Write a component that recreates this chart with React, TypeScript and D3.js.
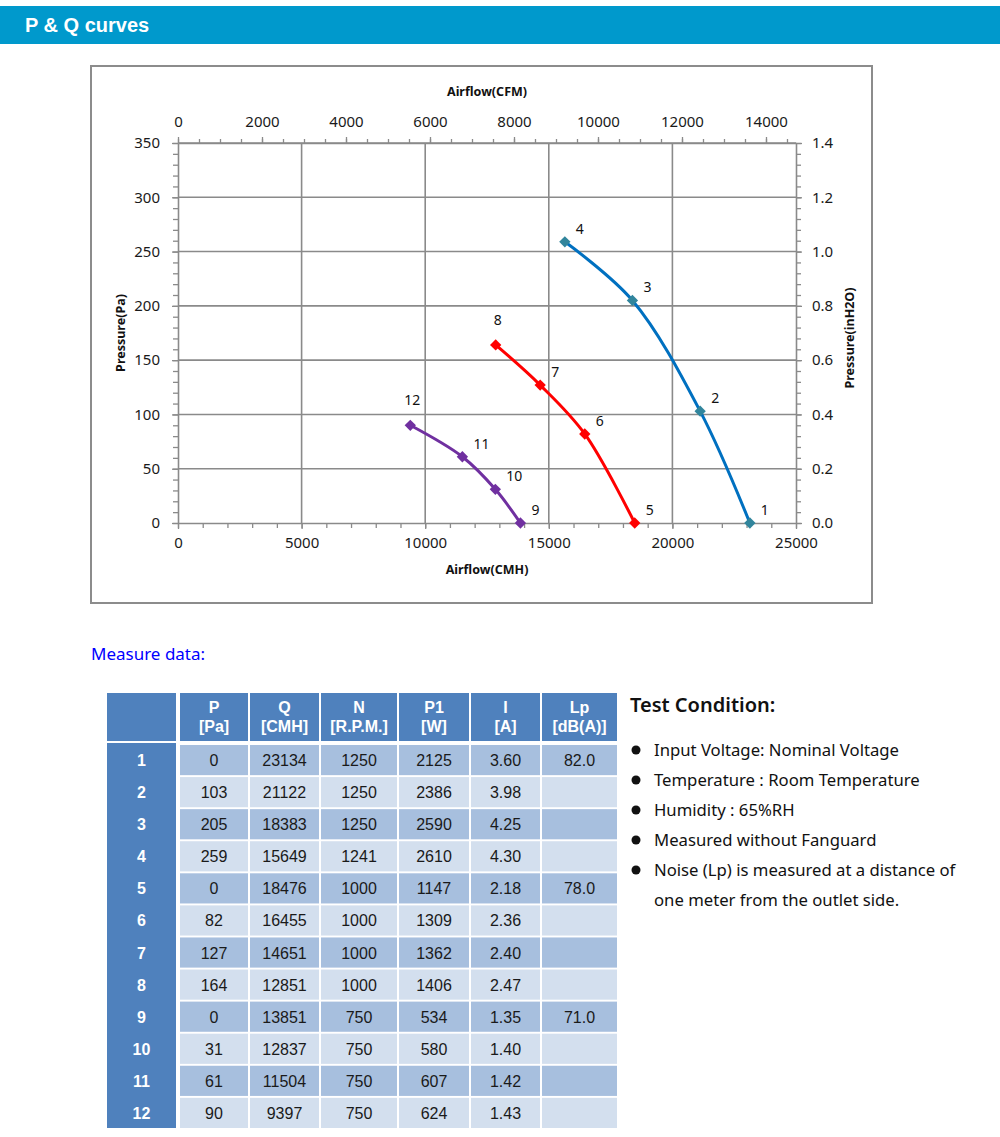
import { useEffect, useRef } from "react"
import * as d3 from "d3"

// measured points 1..12
const pointNo = [1, 2, 3, 4, 5, 6, 7, 8, 9, 10, 11, 12]
const pressurePa = [0, 103, 205, 259, 0, 82, 127, 164, 0, 31, 61, 90]
const flowCMH = [23134, 21122, 18383, 15649, 18476, 16455, 14651, 12851, 13851, 12837, 11504, 9397]
const speedRPM = [1250, 1250, 1250, 1241, 1000, 1000, 1000, 1000, 750, 750, 750, 750]
const powerW = [2125, 2386, 2590, 2610, 1147, 1309, 1362, 1406, 534, 580, 607, 624]
const currentA = ["3.60", "3.98", "4.25", "4.30", "2.18", "2.36", "2.40", "2.47", "1.35", "1.40", "1.42", "1.43"]
const noiseDB = ["82.0", "", "", "", "78.0", "", "", "", "71.0", "", "", ""]

// curves (indexes into the arrays above)
const seriesNames = ["1250 RPM", "1000 RPM", "750 RPM"]
const seriesIdx = [[0, 1, 2, 3], [4, 5, 6, 7], [8, 9, 10, 11]]

const headLines = [["P", "[Pa]"], ["Q", "[CMH]"], ["N", "[R.P.M.]"], ["P1", "[W]"], ["I", "[A]"], ["Lp", "[dB(A)]"]]

const conditions = [
  "Input Voltage: Nominal Voltage",
  "Temperature : Room Temperature",
  "Humidity : 65%RH",
  "Measured without Fanguard",
  "Noise (Lp) is measured at a distance of",
]
const conditionTail = "one meter from the outlet side."

export default function App() {
  const svgRef = useRef<SVGSVGElement>(null)

  useEffect(() => {
    if (!svgRef.current) return
    const svg = d3.select(svgRef.current)
    svg.selectAll("*").remove()

    const font = "'Noto Sans', 'Open Sans', sans-serif"
    const arial = "'Liberation Sans', Arial, sans-serif"
    const gridColor = "#8a8a8a"

    // header bar
    svg.append("rect").attr("x", 0).attr("y", 6).attr("width", 1000).attr("height", 38).attr("fill", "#0099cc")
    svg.append("text").attr("x", 25).attr("y", 32).attr("fill", "#fff")
      .attr("font-family", arial).attr("font-weight", "bold").attr("font-size", 20)
      .text("P & Q curves")

    // chart frame
    svg.append("rect").attr("x", 91).attr("y", 66).attr("width", 781).attr("height", 537)
      .attr("fill", "#fff").attr("stroke", "#8c8c8c").attr("stroke-width", 2)

    const L = 178, R = 796, T = 143, B = 523
    const x = d3.scaleLinear().domain([0, 25000]).range([L, R])
    const xTop = d3.scaleLinear().domain([0, 25000 / 1.699]).range([L, R])
    const y = d3.scaleLinear().domain([0, 350]).range([B, T])
    const yR = d3.scaleLinear().domain([0, 1.4]).range([B, T])

    // grid
    const grid = svg.append("g").attr("stroke", gridColor).attr("stroke-width", 1.6)
    grid.selectAll(".h").data(d3.range(50, 351, 50)).enter().append("line")
      .attr("x1", L).attr("x2", R).attr("y1", (d) => y(d)).attr("y2", (d) => y(d))
    grid.selectAll(".v").data(d3.range(5000, 20001, 5000)).enter().append("line")
      .attr("y1", T).attr("y2", B).attr("x1", (d) => x(d)).attr("x2", (d) => x(d))

    const styleAxis = (g: d3.Selection<SVGGElement, unknown, null, undefined>) => {
      g.selectAll("path").attr("stroke", gridColor).attr("stroke-width", 1.6)
      g.selectAll("line").attr("stroke", gridColor).attr("stroke-width", 1.3)
      g.selectAll("text").attr("font-family", font).attr("font-size", 15).attr("fill", "#1a1a1a")
    }

    // minor ticks
    const minor = (axis: d3.Axis<d3.NumberValue>, tr: string) => {
      const g = svg.append("g").attr("transform", tr).call(axis.tickFormat(() => "").tickSizeOuter(0))
      g.select("path").remove()
      g.selectAll("line").attr("stroke", gridColor).attr("stroke-width", 1.3)
    }
    minor(d3.axisBottom(x).tickValues(d3.range(0, 25001, 1000)).tickSize(5), `translate(0,${B})`)
    minor(d3.axisLeft(y).tickValues(d3.range(0, 351, 10)).tickSize(5), `translate(${L},0)`)
    minor(d3.axisTop(xTop).tickValues(d3.range(0, 14701, 500)).tickSize(4), `translate(0,${T})`)
    minor(d3.axisRight(yR).tickValues(d3.range(0, 1.401, 0.04)).tickSize(5), `translate(${R},0)`)

    // major axes
    svg.append("g").attr("transform", `translate(0,${B})`)
      .call(d3.axisBottom(x).tickValues(d3.range(0, 25001, 5000)).tickSize(6).tickSizeOuter(0).tickPadding(8).tickFormat(d3.format("d")))
      .call(styleAxis)
    svg.append("g").attr("transform", `translate(${L},0)`)
      .call(d3.axisLeft(y).tickValues(d3.range(0, 351, 50)).tickSize(6).tickSizeOuter(0).tickPadding(12))
      .call(styleAxis)
    svg.append("g").attr("transform", `translate(0,${T})`)
      .call(d3.axisTop(xTop).tickValues(d3.range(0, 14001, 2000)).tickSize(6).tickSizeOuter(0).tickPadding(10).tickFormat(d3.format("d")))
      .call(styleAxis)
    svg.append("g").attr("transform", `translate(${R},0)`)
      .call(d3.axisRight(yR).tickValues(d3.range(0, 1.401, 0.2)).tickSize(6).tickSizeOuter(0).tickPadding(10).tickFormat(d3.format(".1f")))
      .call(styleAxis)

    // axis titles
    const title = (tx: number, ty: number, rot: number, s: string) =>
      svg.append("text").attr("transform", `translate(${tx},${ty}) rotate(${rot})`)
        .attr("text-anchor", "middle").attr("font-family", font).attr("font-weight", "bold")
        .attr("font-size", 12.5).attr("fill", "#111").text(s)
    title(487, 96, 0, "Airflow(CFM)")
    title(487, 574, 0, "Airflow(CMH)")
    title(125, 333, -90, "Pressure(Pa)")
    title(854, 338, -90, "Pressure(inH2O)")

    // curves
    const lineColors = ["#0070c0", "#ff0000", "#7030a0"]
    const markerColors = ["#31859c", "#ff0000", "#7030a0"]
    const line = d3.line<number>()
      .x((i) => x(flowCMH[i]))
      .y((i) => y(pressurePa[i]))
      .curve(d3.curveCatmullRom.alpha(0.5))
    const diamond = d3.symbol(d3.symbolSquare, 64)()

    seriesIdx.forEach((idx, s) => {
      const g = svg.append("g").attr("class", "series").attr("data-name", seriesNames[s])
      g.append("path").attr("d", line(idx)).attr("fill", "none")
        .attr("stroke", lineColors[s]).attr("stroke-width", 3)
      g.selectAll("path.m").data(idx).enter().append("path").attr("class", "m")
        .attr("d", diamond)
        .attr("transform", (i) => `translate(${x(flowCMH[i])},${y(pressurePa[i])}) rotate(45)`)
        .attr("fill", markerColors[s])
      const top = (k: number) => k === idx.length - 1 && s > 0
      g.selectAll("text").data(idx).enter().append("text")
        .attr("font-family", font).attr("font-size", 14).attr("fill", "#111")
        .attr("text-anchor", (i, k) => (top(k) ? "middle" : "start"))
        .attr("x", (i, k) => x(flowCMH[i]) + (top(k) ? 2 : 11))
        .attr("y", (i, k) => y(pressurePa[i]) + (top(k) ? -20 : -8))
        .text((i) => pointNo[i])
    })

    // measure data
    svg.append("text").attr("x", 91).attr("y", 660).attr("fill", "#0000ff")
      .attr("font-family", font).attr("font-size", 17).text("Measure data:")

    const colX = [107, 180, 250, 321, 399, 471, 542]
    const colW = [69, 68, 69, 76, 70, 69, 75]
    const headTop = 693, headH = 48
    const rows = d3.scaleBand<number>().domain(pointNo).range([745, 1128]).paddingInner(0.06)
    const dark = "#4f81bd"

    // header
    colX.forEach((cx, c) => {
      svg.append("rect").attr("x", cx).attr("y", headTop).attr("width", colW[c]).attr("height", headH).attr("fill", dark)
      if (c === 0) return
      headLines[c - 1].forEach((t, k) => {
        svg.append("text").attr("x", cx + colW[c] / 2).attr("y", headTop + 20 + k * 19)
          .attr("text-anchor", "middle").attr("font-family", arial).attr("font-weight", "bold")
          .attr("font-size", 16).attr("fill", "#fff").text(t)
      })
    })
    svg.append("rect").attr("x", colX[0]).attr("y", 743).attr("width", colW[0]).attr("height", 385).attr("fill", dark)

    const cols = [pressurePa, flowCMH, speedRPM, powerW, currentA, noiseDB]
    pointNo.forEach((n, r) => {
      const ry = rows(n) as number
      const h = rows.bandwidth()
      svg.append("text").attr("x", colX[0] + colW[0] / 2).attr("y", ry + h / 2 + 6)
        .attr("text-anchor", "middle").attr("font-family", arial).attr("font-weight", "bold")
        .attr("font-size", 16).attr("fill", "#fff").text(n)
      cols.forEach((arr, c) => {
        svg.append("rect").attr("x", colX[c + 1]).attr("y", ry).attr("width", colW[c + 1]).attr("height", h)
          .attr("fill", r % 2 === 0 ? "#a7bfde" : "#d3dfee")
        svg.append("text").attr("x", colX[c + 1] + colW[c + 1] / 2).attr("y", ry + h / 2 + 6)
          .attr("text-anchor", "middle").attr("font-family", arial).attr("font-size", 16)
          .attr("fill", "#1a1a1a").text(String(arr[r]))
      })
    })

    // test condition
    svg.append("text").attr("x", 630).attr("y", 712).attr("font-family", font).attr("font-weight", 600)
      .attr("font-size", 20).attr("fill", "#111").text("Test Condition:")
    conditions.forEach((t, k) => {
      const cy = 750 + k * 30
      svg.append("circle").attr("cx", 636).attr("cy", cy).attr("r", 4.5).attr("fill", "#111")
      svg.append("text").attr("x", 654).attr("y", cy + 6).attr("font-family", font)
        .attr("font-size", 16.7).attr("fill", "#111").text(t)
    })
    svg.append("text").attr("x", 654).attr("y", 906).attr("font-family", font)
      .attr("font-size", 16.7).attr("fill", "#111").text(conditionTail)
  }, [])

  return (
    <svg ref={svgRef} width={1000} height={1137}
      style={{ position: "absolute", left: 0, top: 0, background: "#fff" }} />
  )
}
